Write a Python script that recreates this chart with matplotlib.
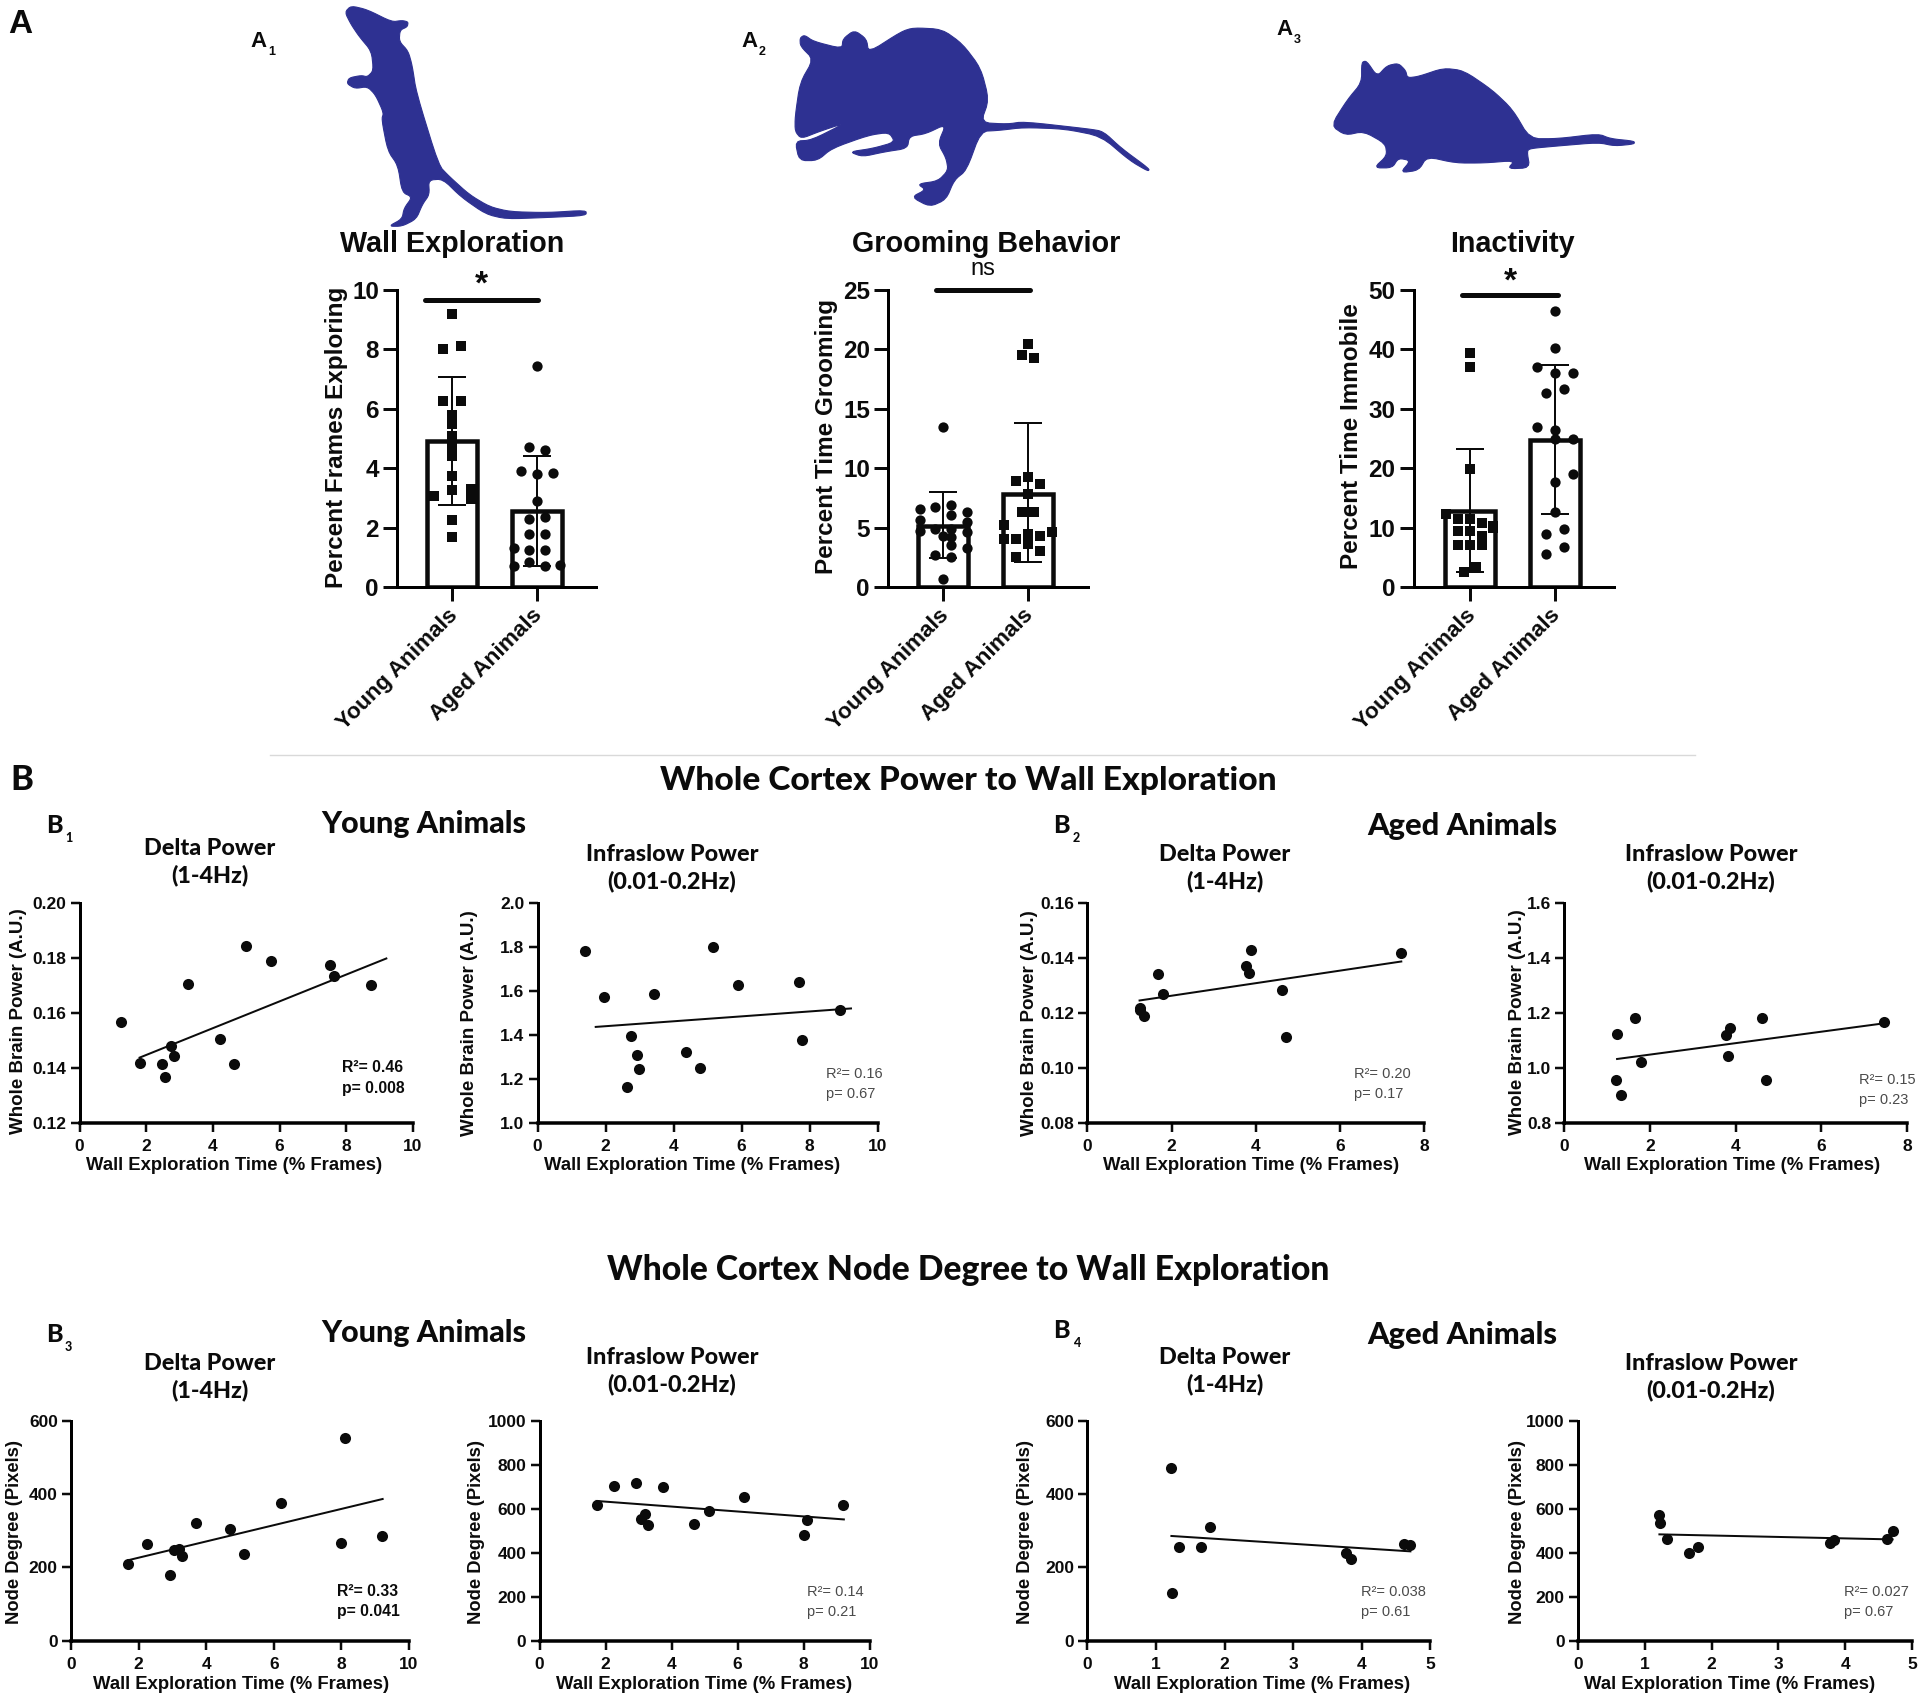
import matplotlib
matplotlib.use("Agg")
import matplotlib.pyplot as plt
from matplotlib.patches import Polygon

ARIAL = 'Liberation Sans'
HEAD = 'Lato'
plt.rcParams['font.family'] = ARIAL

W, H = 1920, 1698
INK = '#0b0b0b'
BLUE = '#2e3192'

# ---------- Panel A data ----------
cats = ['Young Animals', 'Aged Animals']

a1_means = [4.9, 2.55]
a1_err_hi = [7.08, 4.4]
a1_err_lo = [2.75, 0.72]
a1_young_y = [9.2, 8.0, 8.1, 6.25, 6.25, 5.8, 5.5, 5.1, 4.75, 4.4, 3.75, 3.05, 3.25, 3.3, 2.95, 2.25, 1.7]
a1_young_j = [0, -.1, .11, -.1, .11, 0, 0, 0, 0, 0, 0, -.21, 0, .22, .22, 0, 0]
a1_aged_y = [7.45, 4.7, 4.6, 3.9, 3.8, 3.85, 2.9, 2.3, 2.35, 1.8, 1.8, 1.3, 1.25, 1.25, .7, .85, .72, .75]
a1_aged_j = [0, -.09, .09, -.19, 0, .19, 0, -.09, .09, -.09, .09, -.27, -.09, .09, -.27, -.09, .09, .27]

a2_means = [5.15, 7.85]
a2_err_hi = [8.0, 13.8]
a2_err_lo = [2.45, 2.1]
a2_young_y = [13.5, 6.55, 6.7, 6.9, 6.3, 6.05, 5.65, 4.7, 4.85, 4.9, 5.5, 4.6, 4.25, 2.7, 3.5, 2.55, 3.3, .65, 4.3]
a2_young_j = [0, -.27, -.09, .1, .28, .1, -.27, -.27, -.09, .1, .28, .28, .1, -.09, .1, .1, .28, 0, 0]
a2_aged_y = [20.45, 19.5, 19.3, 9.3, 8.95, 8.7, 7.8, 6.3, 6.3, 5.2, 4.5, 4.0, 4.0, 4.3, 4.65, 3.6, 3.0, 2.5]
a2_aged_j = [0, -.07, .07, 0, -.14, .14, 0, -.07, .07, -.28, 0, -.28, -.14, .14, .28, 0, .14, -.14]

a3_means = [12.8, 24.7]
a3_err_hi = [23.3, 37.4]
a3_err_lo = [2.5, 12.3]
a3_young_y = [39.4, 37.1, 19.8, 12.3, 11.5, 11.5, 10.8, 10.3, 9.4, 9.4, 8.6, 9.9, 7, 7, 7, 3.3, 2.5]
a3_young_j = [0, 0, 0, -.28, -.14, 0, .14, .27, -.14, 0, .14, .27, -.14, 0, .14, .07, -.07]
a3_aged_y = [46.5, 40.3, 37.1, 36, 36, 33.3, 32.7, 26.9, 26.4, 25, 24.9, 19.1, 17.7, 12.7, 9.7, 9, 6.7, 5.5]
a3_aged_j = [0, 0, -.21, 0, .21, .11, -.11, -.21, 0, .21, 0, .21, 0, 0, .11, -.11, .11, -.11]

# ---------- Panel B data ----------
b1d_x = [1.23, 1.8, 2.46, 2.57, 2.75, 2.83, 3.25, 4.22, 4.64, 4.99, 5.74, 7.52, 7.63, 8.73]
b1d_y = [.1565, .1418, .1415, .1365, .148, .1443, .1706, .1503, .1413, .1845, .1787, .1775, .1733, .1703]
b1d_fit_x = [1.8, 9.2]
b1d_fit_y = [.1437, .1798]

b1i_x = [1.4, 1.96, 2.74, 2.92, 2.99, 2.63, 3.42, 4.38, 4.79, 5.15, 5.91, 7.68, 7.78, 8.9]
b1i_y = [1.781, 1.57, 1.394, 1.308, 1.245, 1.164, 1.585, 1.32, 1.25, 1.798, 1.628, 1.64, 1.377, 1.515]
b1i_fit_x = [1.71, 9.22]
b1i_fit_y = [1.436, 1.52]

b2d_x = [1.24, 1.24, 1.34, 1.67, 1.8, 3.77, 3.84, 3.88, 4.63, 4.71, 7.46]
b2d_y = [.1217, .1209, .1187, .1342, .1269, .1369, .1345, .1429, .1285, .1112, .1418]
b2d_fit_x = [1.24, 7.46]
b2d_fit_y = [.1245, .1387]

b2i_x = [1.23, 1.21, 1.33, 1.66, 1.79, 3.77, 3.87, 3.83, 4.61, 4.71, 7.47]
b2i_y = [1.123, .956, .90, 1.183, 1.021, 1.12, 1.144, 1.042, 1.183, .957, 1.166]
b2i_fit_x = [1.23, 7.47]
b2i_fit_y = [1.032, 1.162]

b3d_x = [1.7, 2.25, 2.93, 3.06, 3.2, 3.28, 3.71, 4.69, 5.11, 6.2, 7.99, 8.1, 9.2]
b3d_y = [210, 264, 180, 248, 250, 232, 321, 305, 236, 375, 266, 553, 285]
b3d_fit_x = [1.7, 9.22]
b3d_fit_y = [220, 387]

b3i_x = [1.73, 2.26, 2.93, 3.73, 3.06, 3.21, 3.28, 4.69, 5.12, 6.2, 8.0, 8.09, 9.2]
b3i_y = [619, 704, 716, 701, 554, 575, 528, 530, 590, 655, 481, 549, 618]
b3i_fit_x = [1.73, 9.22]
b3i_fit_y = [636, 552]

b4d_x = [1.225, 1.23, 1.33, 1.66, 1.79, 3.77, 3.84, 4.62, 4.71]
b4d_y = [471, 131, 255, 257, 311, 239, 223, 264, 260]
b4d_fit_x = [1.225, 4.71]
b4d_fit_y = [286, 244]

b4i_x = [1.22, 1.23, 1.33, 1.66, 1.79, 3.78, 3.83, 4.62, 4.71]
b4i_y = [572, 534, 463, 397, 425, 446, 458, 464, 499]
b4i_fit_x = [1.22, 4.71]
b4i_fit_y = [484, 461]

# ---------- silhouettes (outline in crop pixels) ----------
rat1 = [(845,25),(860,12),(900,20),(960,45),(985,42),(1000,45),(998,55),(980,62),(978,85),(1000,105),(1010,135),
        (1020,190),(1075,340),(1100,362),(1150,400),(1200,425),(1250,435),(1340,437),(1436,432),(1436,443),(1340,447),
        (1240,450),(1190,440),(1130,405),(1085,368),(1050,370),(1052,400),(1035,420),(1020,450),(985,465),(952,465),
        (985,450),(990,428),(1010,405),(985,395),(975,340),(950,310),(935,245),(940,232),(920,195),(900,178),(870,182),
        (850,172),(855,160),(885,155),(900,158),(915,145),(910,105),(880,75),(860,50)]
rat2 = [(392,78),(403,72),(425,85),(495,100),(497,80),(525,62),(555,80),(560,108),(640,65),(670,57),(740,60),(790,90),
        (835,140),(855,205),(835,252),(900,255),(940,250),(1100,265),(1135,270),(1180,305),(1248,347),(1245,352),
        (1200,330),(1130,280),(1040,265),(940,262),(880,268),(835,270),(800,350),(770,370),(750,410),(710,425),(665,405),
        (700,390),(680,378),(730,372),(755,350),(750,325),(730,295),(750,255),(700,275),(660,280),(655,305),(600,312),
        (545,322),(513,312),(570,305),(625,292),(610,272),(560,278),(470,305),(435,330),(390,330),(380,290),(420,288),
        (505,252),(440,270),(395,285),(380,270),(380,240),(392,170),(425,122),(393,95)]
rat3 = [(200,170),(200,128),(212,125),(238,157),(262,135),(290,130),(308,145),(312,160),(340,157),(400,140),(450,145),
        (520,185),(570,225),(612,285),(680,285),(780,275),(810,285),(868,290),(868,296),(820,300),(780,293),(680,300),
        (615,305),(605,310),(612,345),(558,347),(575,330),(500,335),(430,335),(360,322),(340,350),(295,355),(320,330),
        (290,325),(275,345),(230,345),(262,320),(258,295),(205,270),(160,278),(125,258),(165,205)]

fig = plt.figure(figsize=(W / 100, H / 100), dpi=100, facecolor='white')
bg = fig.add_axes([0, 0, 1, 1])
bg.set_xlim(0, W)
bg.set_ylim(H, 0)
bg.axis('off')


def px(v):
    return v * 0.72


def rect(l, t, r, b):
    return [l / W, 1 - b / H, (r - l) / W, (b - t) / H]


def T(x, y, s, size, fam=ARIAL, weight='bold', ha='center', va='center', color=INK, rot=0):
    bg.text(x, y, s, fontsize=size, family=fam, weight=weight, ha=ha, va=va, color=color, rotation=rot)


def chaikin(pts, n=2):
    for _ in range(n):
        out = []
        for i in range(len(pts)):
            a, b = pts[i], pts[(i + 1) % len(pts)]
            out.append((0.8 * a[0] + 0.2 * b[0], 0.8 * a[1] + 0.2 * b[1]))
            out.append((0.2 * a[0] + 0.8 * b[0], 0.2 * a[1] + 0.8 * b[1]))
        pts = out
    return pts


def silhouette(pts, ox):
    xy = [(ox + x / 2.45, y / 2.055) for x, y in chaikin(pts)]
    bg.add_patch(Polygon(xy, closed=True, fc=BLUE, ec=BLUE, lw=0.8))


def bar_panel(l, r, xlim, ymax, yticks, ylabel, means, hi, lo, yy, yj, ay, aj, ym, am, sig_x, sig_y, ylab_x, ylab_y):
    ax = fig.add_axes(rect(l, 290, r, 587))
    ax.set_facecolor('none')
    ax.bar([0, 1], means, width=0.59, facecolor='none', edgecolor=INK, linewidth=px(4.5), zorder=2)
    for i in range(2):
        ax.errorbar([i], [means[i]], yerr=[[means[i] - lo[i]], [hi[i] - means[i]]], color=INK,
                    elinewidth=px(2), capsize=10.4, capthick=px(2), zorder=3)
    ax.plot([0 + j for j in yj], yy, ls='none', marker=ym, ms=7.0 if ym == 's' else 7.4, color=INK, mew=0, zorder=4, clip_on=False)
    ax.plot([1 + j for j in aj], ay, ls='none', marker=am, ms=7.0 if am == 's' else 7.4, color=INK, mew=0, zorder=4, clip_on=False)
    ax.plot(sig_x, [sig_y, sig_y], color=INK, lw=px(5), solid_capstyle='round', clip_on=False, zorder=5)
    ax.set_xlim(*xlim)
    ax.set_ylim(0, ymax)
    ax.set_yticks(yticks)
    ax.set_xticks([0, 1])
    ax.set_xticklabels(['', ''])
    for i, c in enumerate(cats):
        ax.annotate(c, xy=(i, 0), xycoords=('data', 'axes fraction'), xytext=(-3.6, -13), textcoords='offset points',
                    rotation=45, ha='right', va='top', rotation_mode='anchor', fontsize=16.2, weight='bold', color=INK)
    ax.tick_params(axis='x', length=10, width=px(3), color=INK)
    ax.tick_params(axis='y', length=10, width=px(3), color=INK, pad=3, labelsize=17.5)
    for t in ax.get_yticklabels():
        t.set_fontweight('bold')
        t.set_color(INK)
    for s in ('top', 'right'):
        ax.spines[s].set_visible(False)
    ax.spines['left'].set_linewidth(px(3))
    ax.spines['bottom'].set_linewidth(px(3))
    T(ylab_x, ylab_y, ylabel, 17.5, rot=90)
    return ax


def scatter_panel(box, xlim, xticks, ylim, yticks, yfmt, x, y, fx, fy):
    ax = fig.add_axes(rect(*box))
    ax.set_facecolor('none')
    ax.plot(x, y, ls='none', marker='o', ms=8.0, color=INK, mew=0, clip_on=False, zorder=3)
    ax.plot(fx, fy, color=INK, lw=px(2), zorder=2)
    ax.set_xlim(*xlim)
    ax.set_ylim(*ylim)
    ax.set_xticks(xticks)
    ax.set_yticks(yticks)
    ax.set_yticklabels([yfmt.format(v) for v in yticks], weight='bold', fontsize=12.5, color=INK)
    ax.set_xticklabels([str(v) for v in xticks], weight='bold', fontsize=12.5, color=INK)
    ax.tick_params(axis='x', length=6.5, width=px(2.5), color=INK, pad=5)
    ax.tick_params(axis='y', length=6.5, width=px(2.5), color=INK, pad=3)
    for s in ('top', 'right'):
        ax.spines[s].set_visible(False)
    ax.spines['left'].set_linewidth(px(3))
    ax.spines['bottom'].set_linewidth(px(3.5))
    return ax


# ---------- Panel A ----------
silhouette(rat1, 0)
silhouette(rat2, 640)
silhouette(rat3, 1280)

T(8, 24, 'A', 24, ha='left')
for x, y, n in [(250, 41, '1'), (741, 41, '2'), (1276, 29, '3')]:
    T(x, y, 'A', 16, ha='left')
    T(x + 18, y + 11, n, 9, ha='left')

T(452, 244, 'Wall Exploration', 20.7)
T(986, 244, 'Grooming Behavior', 20.7)
T(1512, 244, 'Inactivity', 20.7)
T(481.5, 285, '*', 24)
T(983, 269, 'ns', 17, weight='normal')
T(1510, 282, '*', 24)

bar_panel(397, 596, (-0.647, 1.694), 10, [0, 2, 4, 6, 8, 10], 'Percent Frames Exploring',
          a1_means, a1_err_hi, a1_err_lo, a1_young_y, a1_young_j, a1_aged_y, a1_aged_j, 's', 'o',
          (-0.32, 1.01), 9.67, 336, 437)
bar_panel(888, 1088, (-0.647, 1.706), 25, [0, 5, 10, 15, 20, 25], 'Percent Time Grooming',
          a2_means, a2_err_hi, a2_err_lo, a2_young_y, a2_young_j, a2_aged_y, a2_aged_j, 'o', 's',
          (-0.08, 1.02), 25, 826, 436)
bar_panel(1413.5, 1614, (-0.664, 1.694), 50, [0, 10, 20, 30, 40, 50], 'Percent Time Immobile',
          a3_means, a3_err_hi, a3_err_lo, a3_young_y, a3_young_j, a3_aged_y, a3_aged_j, 's', 'o',
          (-0.09, 1.03), 49.2, 1351, 436)

bg.plot([270, 1695], [755, 755], color='#d9d9d9', lw=1)

# ---------- Panel B text ----------
T(10, 780, 'B', 25, fam=HEAD, ha='left', weight='black')
T(968, 780, 'Whole Cortex Power to Wall Exploration', 24.1, fam=HEAD, weight='black')
T(968, 1270, 'Whole Cortex Node Degree to Wall Exploration', 24.3, fam=HEAD, weight='black')

T(424, 824, 'Young Animals', 22, fam=HEAD, weight='black')
T(1462, 826, 'Aged Animals', 22.2, fam=HEAD, weight='black')
T(424, 1333, 'Young Animals', 22, fam=HEAD, weight='black')
T(1462, 1335, 'Aged Animals', 22.2, fam=HEAD, weight='black')

for x, y, sx, sy, n in [(46.5, 825, 65, 838, '1'), (1053, 825, 1073, 838, '2'),
                        (46.5, 1335, 65, 1347, '3'), (1053, 1331, 1073, 1343, '4')]:
    T(x, y, 'B', 18, fam=HEAD, ha='left', weight='black')
    T(sx, sy, n, 9, fam=HEAD, ha='left', weight='black')

DELTA = 'Delta Power\n(1-4Hz)'
INFRA = 'Infraslow Power\n(0.01-0.2Hz)'
for x, y, s in [(210, 862.5, DELTA), (672, 868.5, INFRA), (1224.5, 868.5, DELTA), (1710.8, 868.5, INFRA),
                (210, 1377, DELTA), (672, 1371.5, INFRA), (1224.5, 1371.5, DELTA), (1710.8, 1377, INFRA)]:
    bg.text(x, y, s, fontsize=16.8, family=HEAD, weight='black', ha='center', va='center', color=INK, linespacing=1.3)

# ---------- Panel B axes ----------
top1, bot1, top2, bot2 = 903, 1122.7, 1421, 1640.7
f2 = '{:.2f}'
f1 = '{:.1f}'
f0 = '{:d}'
ten = [0, 2, 4, 6, 8, 10]
eight = [0, 2, 4, 6, 8]
five = [0, 1, 2, 3, 4, 5]
p600 = [0, 200, 400, 600]
p1000 = [0, 200, 400, 600, 800, 1000]

scatter_panel((79.6, top1, 413, bot1), (0, 10), ten, (.12, .20), [.12, .14, .16, .18, .20], f2, b1d_x, b1d_y, b1d_fit_x, b1d_fit_y)
scatter_panel((537.6, top1, 877.5, bot1), (0, 10), ten, (1.0, 2.0), [1.0, 1.2, 1.4, 1.6, 1.8, 2.0], f1, b1i_x, b1i_y, b1i_fit_x, b1i_fit_y)
scatter_panel((1087.4, top1, 1424, bot1), (0, 8), eight, (.08, .16), [.08, .10, .12, .14, .16], f2, b2d_x, b2d_y, b2d_fit_x, b2d_fit_y)
scatter_panel((1564.4, top1, 1907, bot1), (0, 8), eight, (.8, 1.6), [.8, 1.0, 1.2, 1.4, 1.6], f1, b2i_x, b2i_y, b2i_fit_x, b2i_fit_y)
scatter_panel((71, top2, 409, bot2), (0, 10), ten, (0, 600), p600, f0, b3d_x, b3d_y, b3d_fit_x, b3d_fit_y)
scatter_panel((539.5, top2, 869.6, bot2), (0, 10), ten, (0, 1000), p1000, f0, b3i_x, b3i_y, b3i_fit_x, b3i_fit_y)
scatter_panel((1087.4, top2, 1430.3, bot2), (0, 5), five, (0, 600), p600, f0, b4d_x, b4d_y, b4d_fit_x, b4d_fit_y)
scatter_panel((1577.9, top2, 1912, bot2), (0, 5), five, (0, 1000), p1000, f0, b4i_x, b4i_y, b4i_fit_x, b4i_fit_y)

XL = 'Wall Exploration Time (% Frames)'
for x, y, s in [(234.5, 1165, XL), (692, 1165, XL), (1251, 1165, XL), (1731.6, 1165, XL),
                (241, 1684.5, XL), (704, 1684.5, XL), (1262, 1684.5, XL),
                (1730, 1684.5, 'Wal Exploration Time (% Frames)')]:
    T(x, y, s, 13.3, ha='center')

YP = 'Whole Brain Power (A.U.)'
YN = 'Node Degree (Pixels)'
for x, y, s in [(19, 1021, YP), (469, 1023, YP), (1029, 1023, YP), (1517, 1022, YP)]:
    T(x, y, s, 13.5, rot=90)
for x, y, s in [(15, 1531.7, YN), (476.4, 1531.7, YN), (1026, 1531.7, YN), (1517, 1531.7, YN)]:
    T(x, y, s, 13.2, rot=90)

GREY = '#4a4a4a'
for x, y, r, p, w, c, fs in [(342, 1068, 'R²= 0.46', 'p= 0.008', 'bold', INK, 11.3),
                             (825.5, 1074, 'R²= 0.16', 'p= 0.67', 'normal', GREY, 10.5),
                             (1353.7, 1074, 'R²= 0.20', 'p= 0.17', 'normal', GREY, 10.5),
                             (1859, 1080, 'R²= 0.15', 'p= 0.23', 'normal', GREY, 10.5),
                             (337, 1591.7, 'R²= 0.33', 'p= 0.041', 'bold', INK, 11.3),
                             (807, 1591.7, 'R²= 0.14', 'p= 0.21', 'normal', GREY, 10.5),
                             (1361, 1591.7, 'R²= 0.038', 'p= 0.61', 'normal', GREY, 10.5),
                             (1844, 1591.7, 'R²= 0.027', 'p= 0.67', 'normal', GREY, 10.5)]:
    T(x, y, r, fs, weight=w, ha='left', color=c)
    T(x, y + 20, p, fs, weight=w, ha='left', color=c)

fig.savefig('out.png', dpi=100, facecolor='white')
